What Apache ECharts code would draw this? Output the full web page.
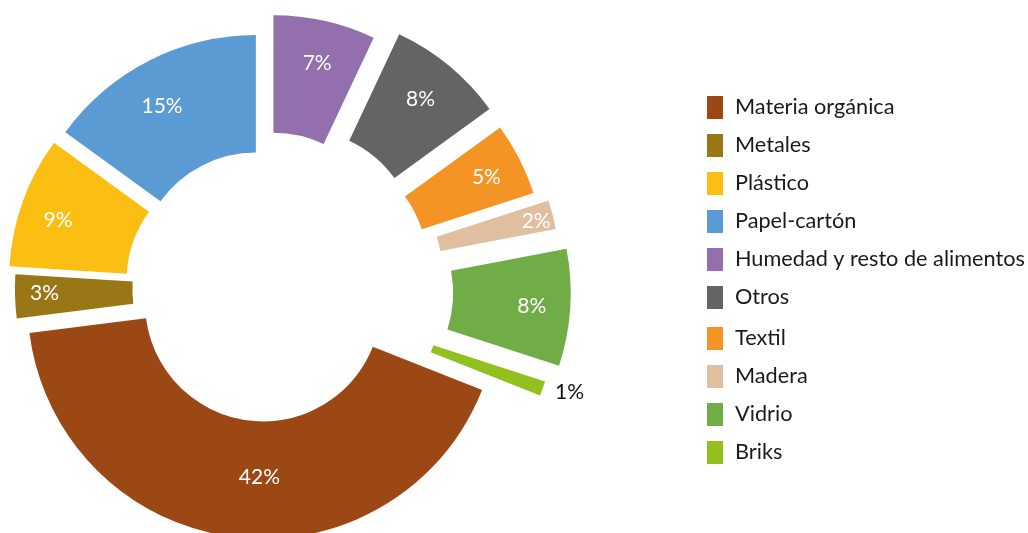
<!DOCTYPE html>
<html>
<head>
<meta charset="utf-8">
<script src="https://cdn.jsdelivr.net/npm/echarts@6/dist/echarts.min.js"></script>
<style>
html,body{margin:0;padding:0;background:#fff;}
#chart{width:1028px;height:533px;}
</style>
</head>
<body>
<div id="chart"></div>
<script>
// ---- data ----
const categories = ['Materia orgánica', 'Metales', 'Plástico', 'Papel-cartón', 'Humedad y resto de alimentos', 'Otros', 'Textil', 'Madera', 'Vidrio', 'Briks'];
const values = [42, 3, 9, 15, 7, 8, 5, 2, 8, 1];

// ---- style / layout ----
const colors = ['#9C4815', '#997616', '#FBBE12', '#5B9BD3', '#9370AD', '#646464', '#F39424', '#E0BFA1', '#70AD47', '#92C01F'];
const explodePx = [15, 14.6, 21.8, 20.1, 38.6, 53.3, 50, 61.4, 70.3, 59.6];
const labelRadius = [171, 203, 193, 186, 190, 189, 195, 215, 194, 259];
const labelAngle = [181.1, 268.7, 288, 330.2, 13.1, 39.3, 63.3, 76.2, 93.8, 108.5]; // deg clockwise from 12 o'clock
const labelColors = ['#fff', '#fff', '#fff', '#fff', '#fff', '#fff', '#fff', '#fff', '#fff', '#111'];
const firstSliceAngle = 111.6; // degrees clockwise from 12 o'clock
const baseCenter = [265, 288.5];
const innerR = 118, outerR = 235.5;
const FONT = 'Lato';

const total = values.reduce((a, b) => a + b, 0);
const mids = [];
let cum = 0;
values.forEach(v => {
  mids.push((firstSliceAngle + 360 * (cum + v / 2) / total) * Math.PI / 180);
  cum += v;
});

const series = categories.map((name, k) => {
  const a = mids[k];
  const dx = Math.sin(a), dy = -Math.cos(a);
  const midR = (innerR + outerR) / 2;
  const la = labelAngle[k] * Math.PI / 180;
  const shiftX = labelRadius[k] * Math.sin(la) - midR * dx;
  const shiftY = -labelRadius[k] * Math.cos(la) - midR * dy;
  return {
    type: 'pie',
    silent: true,
    center: [baseCenter[0] + explodePx[k] * dx, baseCenter[1] + explodePx[k] * dy],
    radius: [innerR, outerR],
    startAngle: 90 - firstSliceAngle,
    clockwise: true,
    avoidLabelOverlap: false,
    animation: false,
    labelLine: { show: false },
    emphasis: { disabled: true },
    label: {
      show: true,
      position: 'inside',
      formatter: p => p.value + '%',
      fontFamily: FONT,
      fontWeight: 400,
      fontSize: 21,
      color: labelColors[k]
    },
    labelLayout: function () {
      return { dx: shiftX, dy: shiftY };
    },
    data: values.map((v, i) => i === k
      ? { name: categories[i], value: v, itemStyle: { color: colors[i], borderWidth: 0 } }
      : { name: '_' + i, value: v, itemStyle: { color: 'rgba(0,0,0,0)', borderWidth: 0 }, label: { show: false } })
  };
});

const legendCommon = {
  orient: 'vertical',
  left: 707,
  padding: 0,
  icon: 'rect',
  itemWidth: 16,
  itemHeight: 23,
  itemGap: 15,
  selectedMode: false,
  textStyle: { fontFamily: FONT, fontSize: 21.7, color: '#1a1a1a', padding: [0, 0, 0, 7] }
};

const option = {
  backgroundColor: '#fff',
  animation: false,
  legend: [
    Object.assign({}, legendCommon, { top: 96, data: categories.slice(0, 6) }),
    Object.assign({}, legendCommon, { top: 327, data: categories.slice(6) })
  ],
  series: series
};

const chart = echarts.init(document.getElementById('chart'), null, { renderer: 'canvas' });
chart.setOption(option);
</script>
</body>
</html>
